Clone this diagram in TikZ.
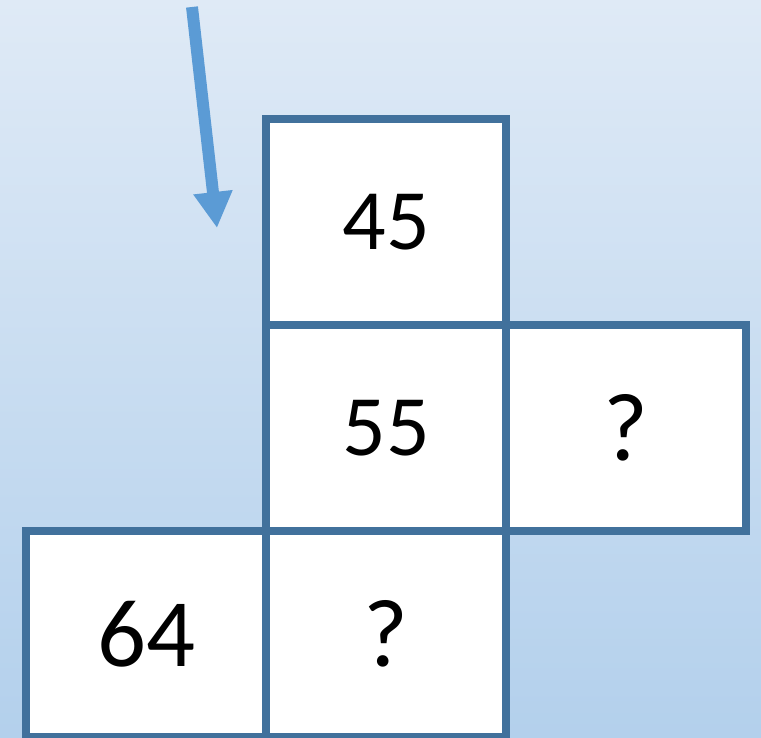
\documentclass[tikz,border=0pt]{standalone}
\usepackage{fontspec}
\setmainfont{Carlito}
\usepackage{xcolor}
\usetikzlibrary{arrows.meta,positioning}
\definecolor{boxc}{HTML}{41719C}
\definecolor{arrc}{HTML}{5B9BD5}
\definecolor{bgtop}{HTML}{DFEAF6}
\definecolor{bgbot}{HTML}{B3D0EC}

\begin{document}
\begin{tikzpicture}[
  cell/.style={rectangle, draw=boxc, fill=white, line width=4.5pt,
               minimum width=4.8cm, minimum height=4.12cm,
               inner sep=0pt, outer sep=0pt, font=\fontsize{49}{50}\selectfont},
  big/.style={font=\fontsize{55}{56}\selectfont},
  ar/.style={draw=arrc, line width=6.8pt,
             -{Triangle[width=0.74cm,length=0.72cm]}}]
% background
\shade[top color=bgtop, bottom color=bgbot] (0,0) rectangle (15.22,14.76);
\useasboundingbox (0,0) rectangle (15.22,14.76);
% cells
\node[cell] (c45) at (7.72,10.32) {45};
\node[cell, below=0pt of c45] (c55) {55};
\node[cell, big, right=0pt of c55] (qr) {?};
\node[cell, big, below=0pt of c55] (qb) {?};
\node[cell, big, left=0pt of qb] (c64) {64};
% arrow
\coordinate (tail) at (3.84,14.62);
\coordinate (tip) at (4.34,10.2);
\draw[ar] (tail) -- (tip);
\end{tikzpicture}
\end{document}
